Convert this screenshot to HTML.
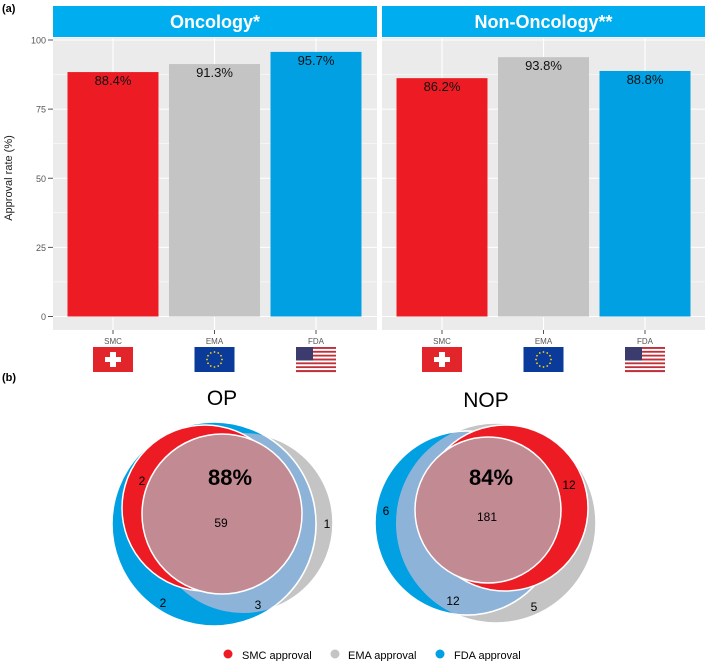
<!DOCTYPE html>
<html><head><meta charset="utf-8"><style>
body{margin:0;background:#fff;width:709px;height:661px;overflow:hidden;font-family:"Liberation Sans",sans-serif}
</style></head><body>
<svg id="s" width="709" height="661" xmlns="http://www.w3.org/2000/svg" font-family="Liberation Sans, sans-serif">
<defs>
<clipPath id="cg1"><circle cx="243" cy="523" r="90"/></clipPath>
<clipPath id="cg2"><circle cx="496" cy="523" r="100"/></clipPath>
</defs>
<text x="2" y="12" font-size="11" font-weight="bold">(a)</text>
<g id="bars"></g>
<text x="2" y="381" font-size="11" font-weight="bold">(b)</text>

<g>
<text x="222" y="405" font-size="21" text-anchor="middle">OP</text>
<circle cx="243" cy="523" r="90" fill="#c4c4c4" stroke="#fff" stroke-width="1.5"/>
<circle cx="214" cy="524" r="102" fill="#00a0e3" stroke="#fff" stroke-width="1.5"/>
<circle cx="214" cy="524" r="102" fill="#8db4d8" stroke="#fff" stroke-width="1.5" clip-path="url(#cg1)"/>
<circle cx="205" cy="508" r="83" fill="#ed1c24" stroke="#fff" stroke-width="1.5"/>
<circle cx="222" cy="514" r="80" fill="#c28a93" stroke="#fff" stroke-width="1.5"/>
<text x="230" y="485" font-size="22" font-weight="bold" text-anchor="middle">88%</text>
<text x="221" y="527" font-size="12" text-anchor="middle">59</text>
<text x="142" y="485" font-size="12" text-anchor="middle">2</text>
<text x="327" y="528" font-size="12" text-anchor="middle">1</text>
<text x="163" y="607" font-size="12" text-anchor="middle">2</text>
<text x="258" y="609" font-size="12" text-anchor="middle">3</text>
</g>

<g>
<text x="486" y="407" font-size="21" text-anchor="middle">NOP</text>
<circle cx="496" cy="523" r="100" fill="#c4c4c4" stroke="#fff" stroke-width="1.5"/>
<circle cx="467" cy="523" r="92" fill="#00a0e3" stroke="#fff" stroke-width="1.5"/>
<circle cx="467" cy="523" r="92" fill="#8db4d8" stroke="#fff" stroke-width="1.5" clip-path="url(#cg2)"/>
<circle cx="505" cy="508" r="83" fill="#ed1c24" stroke="#fff" stroke-width="1.5"/>
<circle cx="488" cy="510" r="73" fill="#c28a93" stroke="#fff" stroke-width="1.5"/>
<text x="491" y="485" font-size="22" font-weight="bold" text-anchor="middle">84%</text>
<text x="487" y="521" font-size="12" text-anchor="middle">181</text>
<text x="569" y="489" font-size="12" text-anchor="middle">12</text>
<text x="386" y="515" font-size="12" text-anchor="middle">6</text>
<text x="453" y="605" font-size="12" text-anchor="middle">12</text>
<text x="534" y="611" font-size="12" text-anchor="middle">5</text>
</g>

<g>
<circle cx="228" cy="654" r="4.5" fill="#ed1c24"/><text x="242" y="659" font-size="11">SMC approval</text>
<circle cx="335" cy="654" r="4.5" fill="#c4c4c4"/><text x="348" y="659" font-size="11">EMA approval</text>
<circle cx="440" cy="654" r="4.5" fill="#00a0e3"/><text x="454" y="659" font-size="11">FDA approval</text>
</g>
</svg>
<script>
const categories=["SMC","EMA","FDA"];
const facets=["Oncology*","Non-Oncology**"];
const oncologyValues=[88.4,91.3,95.7];
const nonOncologyValues=[86.2,93.8,88.8];
const yTicks=[0,25,50,75,100];
const colors=["#ed1c24","#c4c4c4","#00a0e3"];
const NS="http://www.w3.org/2000/svg";
const g=document.getElementById("bars");
function mk(t,a,p){const e=document.createElementNS(NS,t);for(const k in a)e.setAttribute(k,a[k]);(p||g).appendChild(e);return e;}
const y=v=>316.5-v*2.765;
const panels=[{x0:53,x1:377,vals:oncologyValues},{x0:382,x1:705,vals:nonOncologyValues}];
const xc=(p,i)=>p.x0+60+i*101.5;
mk("text",{x:12,y:178,"font-size":11,"text-anchor":"middle",transform:"rotate(-90 12 178)",fill:"#222"}).textContent="Approval rate (%)";
yTicks.forEach(t=>{
 const tx=mk("text",{x:46,y:y(t)+3.5,"font-size":9,"text-anchor":"end",fill:"#555"});tx.textContent=t;
 mk("line",{x1:48,x2:53,y1:y(t),y2:y(t),stroke:"#555"});
});
panels.forEach((p,pi)=>{
 const pg=mk("g",{});
 
 
 mk("rect",{x:p.x0,y:6,width:p.x1-p.x0,height:31,fill:"#00aeef"},pg);
 const st=mk("text",{x:(p.x0+p.x1)/2,y:28,"font-size":18,"font-weight":"bold",fill:"#fff","text-anchor":"middle"},pg);
 st.textContent=facets[pi];
 mk("rect",{x:p.x0,y:38,width:p.x1-p.x0,height:292,fill:"#ebebeb"},pg);
 yTicks.forEach(t=>{mk("line",{x1:p.x0,x2:p.x1,y1:y(t),y2:y(t),stroke:"#fff","stroke-width":1.1},pg);
  if(t<100)mk("line",{x1:p.x0,x2:p.x1,y1:y(t+12.5),y2:y(t+12.5),stroke:"#fff","stroke-width":0.5},pg);});
 categories.forEach((c,i)=>mk("line",{x1:xc(p,i),x2:xc(p,i),y1:38,y2:330,stroke:"#fff","stroke-width":1.1},pg));
 p.vals.forEach((v,i)=>{
  const cx=xc(p,i);
  const r=mk("rect",{x:cx-45.5,y:y(v),width:91,height:y(0)-y(v),fill:colors[i]},pg);
  
  
  const lt=mk("text",{x:cx,y:y(v)+13,"font-size":13,"text-anchor":"middle",fill:"#111"},pg);
  lt.textContent=v.toFixed(1)+"%";
  mk("line",{x1:cx,x2:cx,y1:330,y2:334,stroke:"#555"},pg);
  const cl=mk("text",{x:cx,y:344,"font-size":8,"text-anchor":"middle",fill:"#555"},pg);
  cl.textContent=categories[i];
  const fx=cx-20,fy=347;
  if(i==0){mk("rect",{x:fx,y:fy,width:40,height:25,fill:"#e2252b"},pg);mk("rect",{x:cx-3,y:fy+5,width:6,height:15,fill:"#fff"},pg);mk("rect",{x:cx-8,y:fy+10,width:16,height:5,fill:"#fff"},pg);}
  else if(i==1){mk("rect",{x:fx,y:fy,width:40,height:25,fill:"#0a3a9a"},pg);for(let k=0;k<12;k++){const a=k*Math.PI/6;mk("circle",{cx:cx+7.5*Math.cos(a),cy:fy+12.5+7.5*Math.sin(a),r:0.9,fill:"#ffd700"},pg);}}
  else{for(let k=0;k<13;k++)mk("rect",{x:fx,y:fy+k*25/13,width:40,height:25/13+0.1,fill:k%2?"#fff":"#c0303a"},pg);
   mk("rect",{x:fx,y:fy,width:17,height:13.5,fill:"#3c3b6e"},pg);}
 });
});
function c(i){return categories[i].toLowerCase();}
</script>
</body></html>
